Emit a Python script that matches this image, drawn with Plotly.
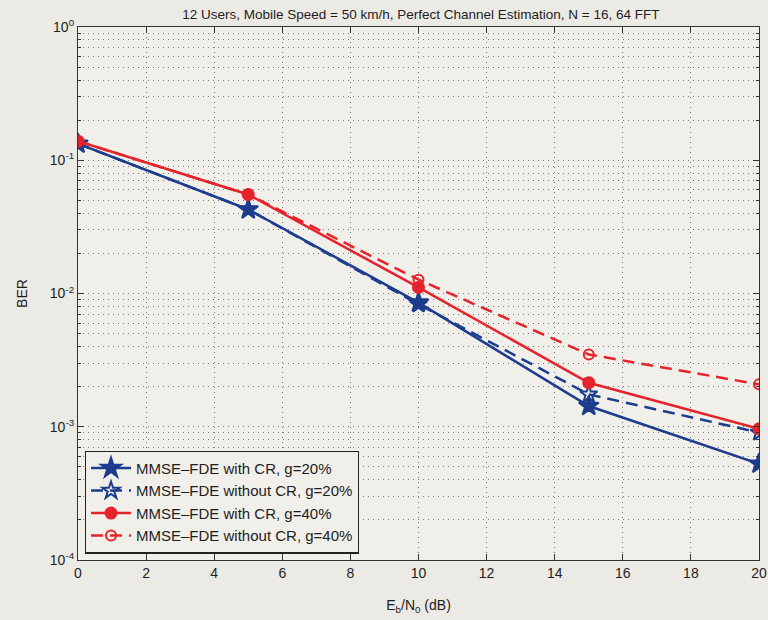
import plotly.graph_objects as go

# Eb/N0 points (dB)
ebn0 = [0, 5, 10, 15, 20]

# BER curves
ber_cr_g20 = [0.133, 0.0427, 0.00855, 0.00143, 0.000528]
ber_nocr_g20 = [0.133, 0.0427, 0.0083, 0.00175, 0.000906]
ber_cr_g40 = [0.139, 0.0553, 0.0111, 0.00214, 0.000966]
ber_nocr_g40 = [0.139, 0.0553, 0.0127, 0.00349, 0.00208]

labels = [
    "MMSE\u2013FDE with CR, g=20%",
    "MMSE\u2013FDE without CR, g=20%",
    "MMSE\u2013FDE with CR, g=40%",
    "MMSE\u2013FDE without CR, g=40%",
]

x_ticks = [0, 2, 4, 6, 8, 10, 12, 14, 16, 18, 20]
y_tickvals = [1e-4, 1e-3, 1e-2, 1e-1, 1]
y_ticktext = ["10<sup>-4</sup>", "10<sup>-3</sup>", "10<sup>-2</sup>",
              "10<sup>-1</sup>", "10<sup>0</sup>"]

BLUE = "#1d3c8e"
RED = "#e5232b"
FONT = "Liberation Sans, Arial, sans-serif"
TXT = "#1e1e1e"
GRID = "#7a7a7a"
DOT = "1px,4px"

fig = go.Figure()
styles = [
    (ber_cr_g20, BLUE, "solid", "star", 15),
    (ber_nocr_g20, BLUE, "12px,7px", "star-open", 13),
    (ber_cr_g40, RED, "solid", "circle", 11),
    (ber_nocr_g40, RED, "12px,7px", "circle-open", 10),
]
for (vals, col, dash, sym, size), name in zip(styles, labels):
    fig.add_trace(go.Scatter(
        x=ebn0, y=vals, name=name, mode="lines+markers",
        line=dict(color=col, width=2.5, dash=dash),
        marker=dict(symbol=sym, size=size, color=col,
                    line=dict(color=col, width=2)),
    ))

fig.update_layout(
    width=768, height=620,
    margin=dict(l=78, r=9, t=27, b=60),
    paper_bgcolor="#ebeae4",
    plot_bgcolor="#f0efea",
    font=dict(family=FONT, size=14, color=TXT),
    title=dict(text="12 Users, Mobile Speed = 50 km/h, Perfect Channel Estimation, N = 16, 64 FFT",
               x=0.548, xanchor="center", y=0.985, yanchor="top",
               font=dict(family=FONT, size=13.5, color=TXT)),
    showlegend=True,
    legend=dict(x=0.01, y=0.012, xanchor="left", yanchor="bottom",
                bgcolor="#f0efea", bordercolor="#222222", borderwidth=1.2,
                font=dict(family=FONT, size=15, color=TXT),
                tracegroupgap=0, itemwidth=40),
    xaxis=dict(
        range=[0, 20], tickvals=x_ticks, automargin=False,
        showgrid=True, gridcolor=GRID, griddash=DOT, gridwidth=1,
        ticks="inside", ticklen=6, tickcolor="#333333",
        showline=True, linecolor="#333333", linewidth=1.2, mirror="ticks",
        zeroline=False,
        title=dict(text="E<sub>b</sub>/N<sub>0</sub> (dB)", standoff=20,
                   font=dict(family=FONT, size=14)),
    ),
    yaxis=dict(
        type="log", range=[-4, 0], tickvals=y_tickvals, ticktext=y_ticktext,
        automargin=False,
        showgrid=True, gridcolor=GRID, griddash=DOT, gridwidth=1,
        ticks="inside", ticklen=6, tickcolor="#333333",
        showline=True, linecolor="#333333", linewidth=1.2, mirror="ticks",
        minor=dict(dtick="D1", showgrid=True, gridcolor=GRID,
                   griddash=DOT, ticks="inside", ticklen=3,
                   tickcolor="#333333"),
        title=dict(text="BER", standoff=18, font=dict(family=FONT, size=14)),
    ),
)

fig.write_html("out.html")
